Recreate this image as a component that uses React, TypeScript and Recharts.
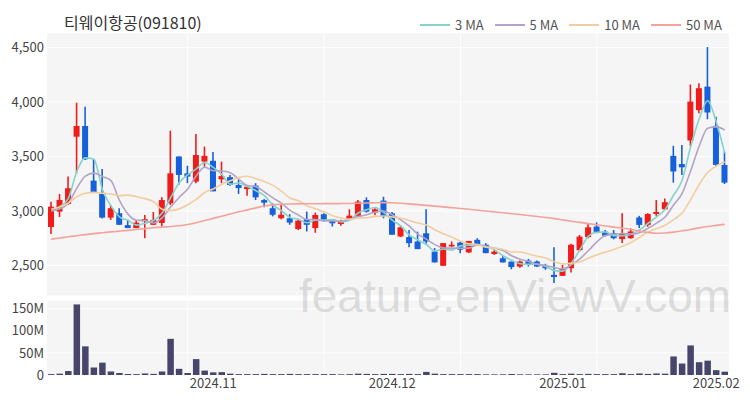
import React from 'react';
import { ComposedChart, BarChart, Bar, Line, XAxis, YAxis, CartesianGrid } from 'recharts';

const octDays = [4, 7, 8, 10, 11, 14, 15, 16, 17, 18, 21, 22, 23, 24, 25, 28, 29, 30, 31];
const novDays = [1, 4, 5, 6, 7, 8, 11, 12, 13, 14, 15, 18, 19, 20, 21, 22, 25, 26, 27, 28, 29];
const decDays = [2, 3, 4, 5, 6, 9, 10, 11, 12, 13, 16, 17, 18, 19, 20, 23, 24, 26, 27, 30];
const janDays = [2, 3, 6, 7, 8, 9, 10, 13, 14, 15, 16, 17, 20, 21, 22, 23, 24, 31];
const febDays = [3, 4];

const pad = (n: number) => String(n).padStart(2, '0');
const dates: string[] = [
  ...octDays.map((d) => `2024.10.${pad(d)}`),
  ...novDays.map((d) => `2024.11.${pad(d)}`),
  ...decDays.map((d) => `2024.12.${pad(d)}`),
  ...janDays.map((d) => `2025.01.${pad(d)}`),
  ...febDays.map((d) => `2025.02.${pad(d)}`),
];

const monthTicks = ['2024.11.01', '2024.12.02', '2025.01.02', '2025.02.03'];
const gridDates = ['2024.10.29', '2024.11.20', '2024.12.12', '2025.01.08'];
const priceTicks = [2500, 3000, 3500, 4000, 4500];
const volumeTicks = [0, 50, 100, 150];

const open = [
  2853, 2994, 3064, 3681, 3779, 3278, 3156, 2939, 2979, 2870,
  2843, 2904, 2873, 2890, 3070, 3500, 3345, 3270, 3453, 3460,
  3290, 3310, 3238, 3200, 3232, 3100, 3025, 2933, 2933, 2834,
  2925, 2843, 2970, 2911, 2880, 2925, 2950, 3100, 2985, 3095,
  2979, 2766, 2760, 2720, 2795, 2627, 2497, 2675, 2710, 2620,
  2735, 2690, 2605, 2566, 2536, 2490, 2545, 2536, 2497, 2414,
  2405, 2475, 2640, 2760, 2857, 2810, 2795, 2742, 2750, 2940,
  2872, 2972, 3015, 3505, 3430, 3646, 3925, 4140, 3780, 3422,
];
const high = [
  3085, 3156, 3315, 3993, 3955, 3474, 3385, 3055, 3025, 2918,
  2915, 2963, 2990, 3125, 3736, 3500, 3415, 3706, 3590, 3540,
  3452, 3330, 3285, 3222, 3255, 3110, 3070, 3055, 2970, 2918,
  2994, 2985, 2980, 2925, 2920, 3015, 3100, 3125, 3025, 3130,
  2990, 2870, 2825, 2810, 3015, 2660, 2705, 2720, 2720, 2725,
  2750, 2705, 2643, 2587, 2536, 2545, 2560, 2545, 2515, 2667,
  2505, 2700, 2780, 2880, 2895, 2825, 2825, 2980, 2840, 2955,
  2980, 3100, 3115, 3597, 3605, 4160, 4172, 4503, 3865, 3544,
];
const low = [
  2789, 2945, 3055, 3346, 3468, 3173, 2930, 2918, 2873, 2843,
  2843, 2750, 2870, 2860, 3055, 3240, 3255, 3255, 3407, 3180,
  3255, 3230, 3156, 3140, 3100, 3034, 2950, 2925, 2873, 2825,
  2812, 2800, 2900, 2857, 2865, 2918, 2942, 2985, 2963, 2933,
  2782, 2760, 2668, 2650, 2690, 2528, 2497, 2668, 2613, 2613,
  2680, 2613, 2597, 2528, 2465, 2480, 2490, 2485, 2460, 2340,
  2405, 2435, 2630, 2750, 2795, 2765, 2740, 2705, 2745, 2843,
  2855, 2955, 3010, 3260, 3330, 3596, 3896, 3841, 3408, 3247,
];
const close = [
  3039, 3101, 3208, 3779, 3474, 3173, 2939, 3025, 2873, 2843,
  2893, 2925, 2918, 3100, 3345, 3330, 3315, 3513, 3505, 3180,
  3320, 3238, 3210, 3222, 3125, 3076, 2965, 2965, 2893, 2911,
  2873, 2963, 2911, 2887, 2902, 2957, 3085, 2994, 3015, 2950,
  2782, 2850, 2705, 2650, 2720, 2528, 2705, 2690, 2645, 2725,
  2690, 2613, 2627, 2528, 2485, 2536, 2510, 2490, 2475, 2394,
  2475, 2690, 2765, 2850, 2800, 2772, 2750, 2795, 2812, 2872,
  2972, 2990, 3080, 3362, 3400, 4003, 4126, 3903, 3422, 3260,
];
// volume in millions of shares
const volume = [
  2, 3, 9, 160, 65, 17, 28, 8, 4.5, 2,
  2, 3.5, 2.5, 8, 82, 14, 4.5, 36, 10, 6,
  6.5, 3, 2, 2, 2, 2.5, 2, 2, 2.5, 2,
  2, 2, 2, 2, 1.5, 2, 3, 2.5, 2, 2.5,
  2.5, 2, 2.5, 2, 7, 3, 2, 2, 2, 2,
  2, 1.5, 1.5, 1.5, 2, 1.5, 1.5, 1.5, 1.5, 5,
  2, 3, 2, 2.5, 2, 2, 2, 4, 2, 3.5,
  2.5, 3.5, 3, 42, 26, 67, 29, 32.5, 11, 7.5,
];
const ma3 = [
  3005, 3040, 3116, 3363, 3487, 3475, 3195, 3046, 2946, 2914,
  2870, 2887, 2912, 2981, 3121, 3258, 3330, 3386, 3444, 3399,
  3335, 3246, 3256, 3223, 3186, 3141, 3055, 3002, 2941, 2923,
  2892, 2916, 2916, 2920, 2900, 2915, 2981, 3012, 3031, 2986,
  2916, 2861, 2779, 2735, 2692, 2633, 2651, 2641, 2680, 2687,
  2687, 2676, 2643, 2589, 2547, 2516, 2510, 2512, 2492, 2453,
  2448, 2520, 2643, 2768, 2805, 2807, 2774, 2772, 2786, 2826,
  2885, 2945, 3014, 3144, 3281, 3588, 3843, 4011, 3817, 3528,
];
const ma5 = [
  3000, 3020, 3070, 3210, 3320, 3347, 3315, 3278, 3097, 2971,
  2915, 2912, 2890, 2936, 3036, 3124, 3202, 3321, 3402, 3369,
  3367, 3351, 3291, 3234, 3223, 3174, 3120, 3071, 3005, 2962,
  2921, 2921, 2910, 2909, 2907, 2924, 2948, 2965, 2991, 3000,
  2965, 2918, 2860, 2787, 2741, 2691, 2662, 2659, 2658, 2659,
  2691, 2673, 2660, 2637, 2589, 2558, 2537, 2510, 2499, 2481,
  2469, 2505, 2560, 2635, 2716, 2775, 2787, 2793, 2786, 2800,
  2840, 2888, 2945, 3055, 3161, 3367, 3594, 3759, 3771, 3743,
];
const ma10 = [
  3018, 3037, 3073, 3131, 3162, 3170, 3162, 3155, 3140, 3145,
  3131, 3113, 3084, 3016, 3003, 3019, 3057, 3106, 3169, 3202,
  3245, 3276, 3306, 3318, 3296, 3270, 3235, 3181, 3119, 3093,
  3048, 3020, 2990, 2957, 2935, 2923, 2935, 2938, 2950, 2954,
  2945, 2933, 2913, 2889, 2871, 2828, 2790, 2760, 2723, 2700,
  2691, 2667, 2659, 2647, 2624, 2624, 2605, 2585, 2568, 2535,
  2513, 2521, 2535, 2567, 2599, 2622, 2646, 2677, 2710, 2758,
  2808, 2838, 2869, 2921, 2981, 3104, 3241, 3352, 3413, 3452,
];
const ma50 = [
  2742, 2752, 2763, 2773, 2783, 2792, 2800, 2808, 2815, 2822,
  2830, 2838, 2846, 2852, 2857, 2864, 2876, 2892, 2912, 2932,
  2952, 2972, 2992, 3010, 3028, 3045, 3056, 3062, 3064, 3065,
  3066, 3066, 3067, 3067, 3068, 3069, 3071, 3073, 3075, 3076,
  3075, 3071, 3065, 3058, 3051, 3044, 3037, 3030, 3023, 3015,
  3007, 2999, 2991, 2983, 2975, 2967, 2958, 2949, 2940, 2930,
  2918, 2906, 2895, 2884, 2873, 2862, 2852, 2842, 2832, 2815,
  2803, 2796, 2798, 2806, 2818, 2830, 2845, 2858, 2868, 2878,
];

const maSeries = [
  { key: 'ma3', name: '3 MA', color: '#86d3cb' },
  { key: 'ma5', name: '5 MA', color: '#b3a3c9' },
  { key: 'ma10', name: '10 MA', color: '#f3cc9f' },
  { key: 'ma50', name: '50 MA', color: '#f3a39b' },
];

const rows = dates.map((date, i) => ({
  date,
  open: open[i],
  high: high[i],
  low: low[i],
  close: close[i],
  volume: volume[i],
  ma3: ma3[i],
  ma5: ma5[i],
  ma10: ma10[i],
  ma50: ma50[i],
}));

const UP = '#f01c1c';
const DOWN = '#1760dc';
const FONT = '"Noto Sans CJK KR", "Noto Sans", sans-serif';

const Candle = (props: any) => {
  const { x, y, width, height, payload } = props;
  if (!payload || x == null || y == null) return null;
  const { open: o, close: c, high: h, low: l } = payload;
  const span = h - l || 1;
  const k = height / span;
  const yOf = (v: number) => y + (h - v) * k;
  const color = c >= o ? UP : DOWN;
  const cx = x + width / 2;
  const top = yOf(Math.max(o, c));
  const bot = yOf(Math.min(o, c));
  return (
    <g>
      <line x1={cx} x2={cx} y1={yOf(h)} y2={yOf(l)} stroke={color} strokeWidth={1.6} />
      <rect x={x} y={top} width={width} height={Math.max(bot - top, 1.2)} fill={color} />
    </g>
  );
};

const vGen = (p: any) => {
  const xAxis = p && p.xAxis;
  if (!xAxis || !xAxis.scale) return [];
  const s: any = xAxis.scale;
  const f = typeof s === 'function' ? s : s.map ? (v: any) => s.map(v) : null;
  if (!f) return [];
  const bw = typeof s.bandwidth === 'function' ? s.bandwidth() : 0;
  return gridDates.map((d) => f(d) + bw / 2).filter((v) => Number.isFinite(v));
};

const tickStyle = { fontSize: 13, fill: '#444', fontFamily: FONT };

export default function App() {
  return (
    <div style={{ position: 'absolute', left: 0, top: 0, width: 750, height: 400, background: '#fff', overflow: 'hidden', fontFamily: FONT }}>
      <div style={{ position: 'absolute', left: 64, top: 10, fontSize: 16, color: '#333', lineHeight: '24px', whiteSpace: 'nowrap' }}>
        티웨이항공(091810)
      </div>
      <div style={{ position: 'absolute', left: 420, top: 16, display: 'flex', alignItems: 'center', fontSize: 13, color: '#555', lineHeight: '18px' }}>
        {maSeries.map((s) => (
          <div key={s.key} style={{ display: 'flex', alignItems: 'center', marginRight: 11 }}>
            <div style={{ width: 30, height: 2, background: s.color, marginRight: 5 }} />
            <span>{s.name}</span>
          </div>
        ))}
      </div>
      <div style={{ position: 'absolute', left: 0, top: 0 }}>
        <ComposedChart width={750} height={300} data={rows} margin={{ top: 33, right: 21, bottom: 4, left: 0 }}>
          <CartesianGrid fill="#f5f5f5" fillOpacity={1} stroke="#ffffff" strokeWidth={1} verticalCoordinatesGenerator={vGen} />
          <XAxis dataKey="date" hide />
          <YAxis
            domain={[2220, 4632]}
            ticks={priceTicks}
            allowDataOverflow
            width={47}
            tickSize={0}
            tickMargin={3}
            axisLine={false}
            tickLine={false}
            tick={tickStyle}
            tickFormatter={(v: number) => v.toLocaleString('en-US')}
          />
          <Bar dataKey={(d: any) => [d.low, d.high]} shape={Candle} barSize={6} isAnimationActive={false} />
          {maSeries.map((s) => (
            <Line key={s.key} type="monotone" dataKey={s.key} stroke={s.color} strokeWidth={1.6} dot={false} activeDot={false} isAnimationActive={false} />
          ))}
        </ComposedChart>
      </div>
      <div style={{ position: 'absolute', left: 0, top: 295 }}>
        <BarChart width={750} height={105} data={rows} margin={{ top: 5, right: 21, bottom: 0, left: 0 }}>
          <CartesianGrid fill="#f5f5f5" fillOpacity={1} stroke="#ffffff" strokeWidth={1} verticalCoordinatesGenerator={vGen} />
          <XAxis
            dataKey="date"
            ticks={monthTicks}
            interval={0}
            height={25}
            tickSize={0}
            tickMargin={4}
            axisLine={false}
            tickLine={false}
            tick={tickStyle}
            tickFormatter={(v: string) => v.slice(0, 7)}
          />
          <YAxis
            domain={[0, 170]}
            ticks={volumeTicks}
            allowDataOverflow
            width={47}
            tickSize={0}
            tickMargin={3}
            axisLine={false}
            tickLine={false}
            tick={tickStyle}
            tickFormatter={(v: number) => (v === 0 ? '0' : `${v}M`)}
          />
          <Bar dataKey="volume" fill="#46466c" barSize={6.5} isAnimationActive={false} />
        </BarChart>
      </div>
      <div style={{ position: 'absolute', left: 299, top: 266, fontSize: 46, color: 'rgba(185,185,185,0.45)', fontFamily: '"Liberation Sans", Arial, sans-serif', whiteSpace: 'nowrap', pointerEvents: 'none', lineHeight: '60px' }}>
        feature.enViewV.com
      </div>
    </div>
  );
}
